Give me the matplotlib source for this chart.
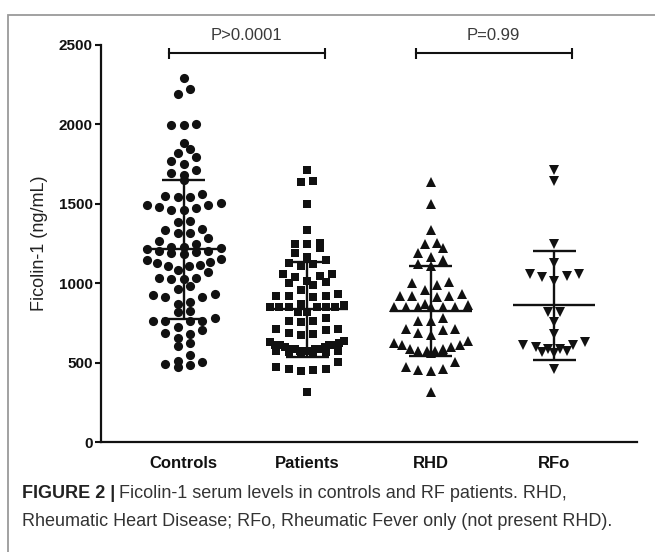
import numpy as np
import matplotlib
matplotlib.use("Agg")
import matplotlib.pyplot as plt
from matplotlib.patches import Rectangle

plt.rcParams['font.family'] = ['Liberation Sans', 'DejaVu Sans']

# ---------------- data ----------------
categories = ["Controls", "Patients", "RHD", "RFo"]

controls = [2292, 2221, 2194, 2000, 1998, 1996, 1885, 1847, 1822, 1794, 1769, 1748,
            1715, 1693, 1679, 1647, 1560, 1550, 1545, 1540, 1502, 1490, 1478, 1462,
            1460, 1475, 1490, 1391, 1385, 1343, 1333, 1318, 1313, 1284, 1265, 1249,
            1230, 1225, 1220, 1215, 1205, 1205, 1195, 1190, 1185, 1150, 1148, 1133,
            1129, 1112, 1108, 1106, 1080, 1070, 1032, 1030, 1028, 1025, 980, 962,
            930, 925, 912, 910, 880, 870, 822, 818, 778, 762, 762, 762, 760, 723,
            707, 686, 677, 656, 623, 602, 549, 513, 501, 492, 484, 471]

rhd = [1637, 1501, 1337, 1253, 1249, 1221, 1190, 1164, 1148, 1118, 1106, 1007,
       1000, 986, 955, 929, 919, 919, 919, 912, 868, 862, 852, 852, 850, 850, 848,
       848, 780, 765, 765, 713, 713, 707, 685, 675, 639, 625, 608, 608, 597, 587,
       587, 576, 576, 576, 572, 568, 558, 503, 471, 461, 455, 446, 318]

rfo = [1710, 1643, 1249, 1127, 1060, 1043, 1017, 1038, 1055, 818, 818, 755, 682,
       608, 598, 587, 566, 560, 572, 587, 608, 629, 461]

# the "Patients" group is RHD and RFo together
patients = rhd + rfo

groups = [controls, patients, rhd, rfo]
markers = ['o', 's', '^', 'v']
marker_sizes = [6.6, 6.4, 7.2, 7.2]

yticks = [0, 500, 1000, 1500, 2000, 2500]
comparisons = [(0, 1, "P>0.0001"), (2, 3, "P=0.99")]

caption_bold = "FIGURE 2 |"
caption_line1 = "Ficolin-1 serum levels in controls and RF patients. RHD,"
caption_line2 = "Rheumatic Heart Disease; RFo, Rheumatic Fever only (not present RHD)."


def swarm_offsets(vals, bin_w=72.0, step=0.1, half_max=0.3):
    """GraphPad-like scatter: values binned in rows, spread horizontally."""
    vals = np.asarray(vals, float)
    offs = np.zeros_like(vals)
    bins = np.floor(vals / bin_w).astype(int)
    for b in np.unique(bins):
        idx = np.where(bins == b)[0]
        idx = idx[np.argsort(vals[idx], kind='stable')]
        n = len(idx)
        sp = step if n < 2 else min(step, 2 * half_max / (n - 1))
        slots = (np.arange(n) - (n - 1) / 2) * sp
        order = np.argsort(np.abs(slots) + 1e-6 * slots, kind='stable')
        offs[idx] = slots[order]
    return offs


W, H = 655, 552
fig = plt.figure(figsize=(W / 100, H / 100), dpi=100)
fig.patch.set_facecolor('white')

ax_l, ax_r, ax_t, ax_b = 101, 637, 45, 442
ax = fig.add_axes([ax_l / W, 1 - ax_b / H, (ax_r - ax_l) / W, (ax_b - ax_t) / H])
ax.set_xlim(-0.67, 3.67)
ax.set_ylim(0, 2500)

ink = '#111111'
for i, (vals, m, ms) in enumerate(zip(groups, markers, marker_sizes)):
    offs = swarm_offsets(vals)
    ax.plot(i + offs, vals, ls='none', marker=m, ms=ms, color=ink,
            markeredgewidth=0, zorder=3)
    arr = np.asarray(vals, float)
    mean, sd = arr.mean(), arr.std(ddof=1)
    ax.hlines(mean, i - 0.33, i + 0.33, color=ink, lw=1.7, zorder=4)
    ax.vlines(i, mean - sd, mean + sd, color=ink, lw=1.7, zorder=4)
    ax.hlines([mean - sd, mean + sd], i - 0.175, i + 0.175, color=ink, lw=1.7, zorder=4)

# significance brackets
y_br = 2448
for i, j, txt in comparisons:
    x0, x1 = i - 0.12, j + 0.14
    ax.plot([x0, x1], [y_br, y_br], color=ink, lw=1.5, clip_on=False)
    ax.vlines([x0, x1], y_br - 38, y_br + 32, color=ink, lw=1.5, clip_on=False)
    ax.text((x0 + x1) / 2, y_br + 110, txt, ha='center', va='center',
            fontsize=12, color='#3a3a3a', clip_on=False)

# axes styling
for s in ['top', 'right']:
    ax.spines[s].set_visible(False)
for s in ['left', 'bottom']:
    ax.spines[s].set_linewidth(1.6)
    ax.spines[s].set_color(ink)
ax.set_yticks(yticks)
ax.set_yticklabels([str(t) for t in yticks], fontsize=11, fontweight='bold')
ax.tick_params(axis='y', length=4, width=1.5, pad=2, colors=ink)
ax.set_xticks(range(len(categories)))
ax.set_xticklabels(categories, fontsize=12, fontweight='bold')
ax.tick_params(axis='x', length=0, pad=10, colors=ink)

fig.text(40 / W, 1 - 243 / H, "Ficolin-1 (ng/mL)", rotation=90, ha='center',
         va='center', fontsize=13, color='#222222')

# figure frame (only top/left visible in crop)
fig.patches.append(Rectangle((8 / W, -0.2), 1.2, 1 - 15 / H + 0.2, fill=False,
                             edgecolor='#9a9a9a', lw=1.3, transform=fig.transFigure))

# caption
t1 = fig.text(22 / W, 1 - 494 / H, caption_bold, fontsize=13, fontweight='bold',
              va='center', ha='left', color='#222222')
fig.canvas.draw()
bb = t1.get_window_extent(fig.canvas.get_renderer())
fig.text((bb.x1 + 4) / W, 1 - 494 / H, caption_line1, fontsize=13, va='center',
         ha='left', color='#333333')
fig.text(22 / W, 1 - 521 / H, caption_line2, fontsize=13, va='center', ha='left',
         color='#333333')

fig.savefig("out.png", dpi=100, facecolor='white')
